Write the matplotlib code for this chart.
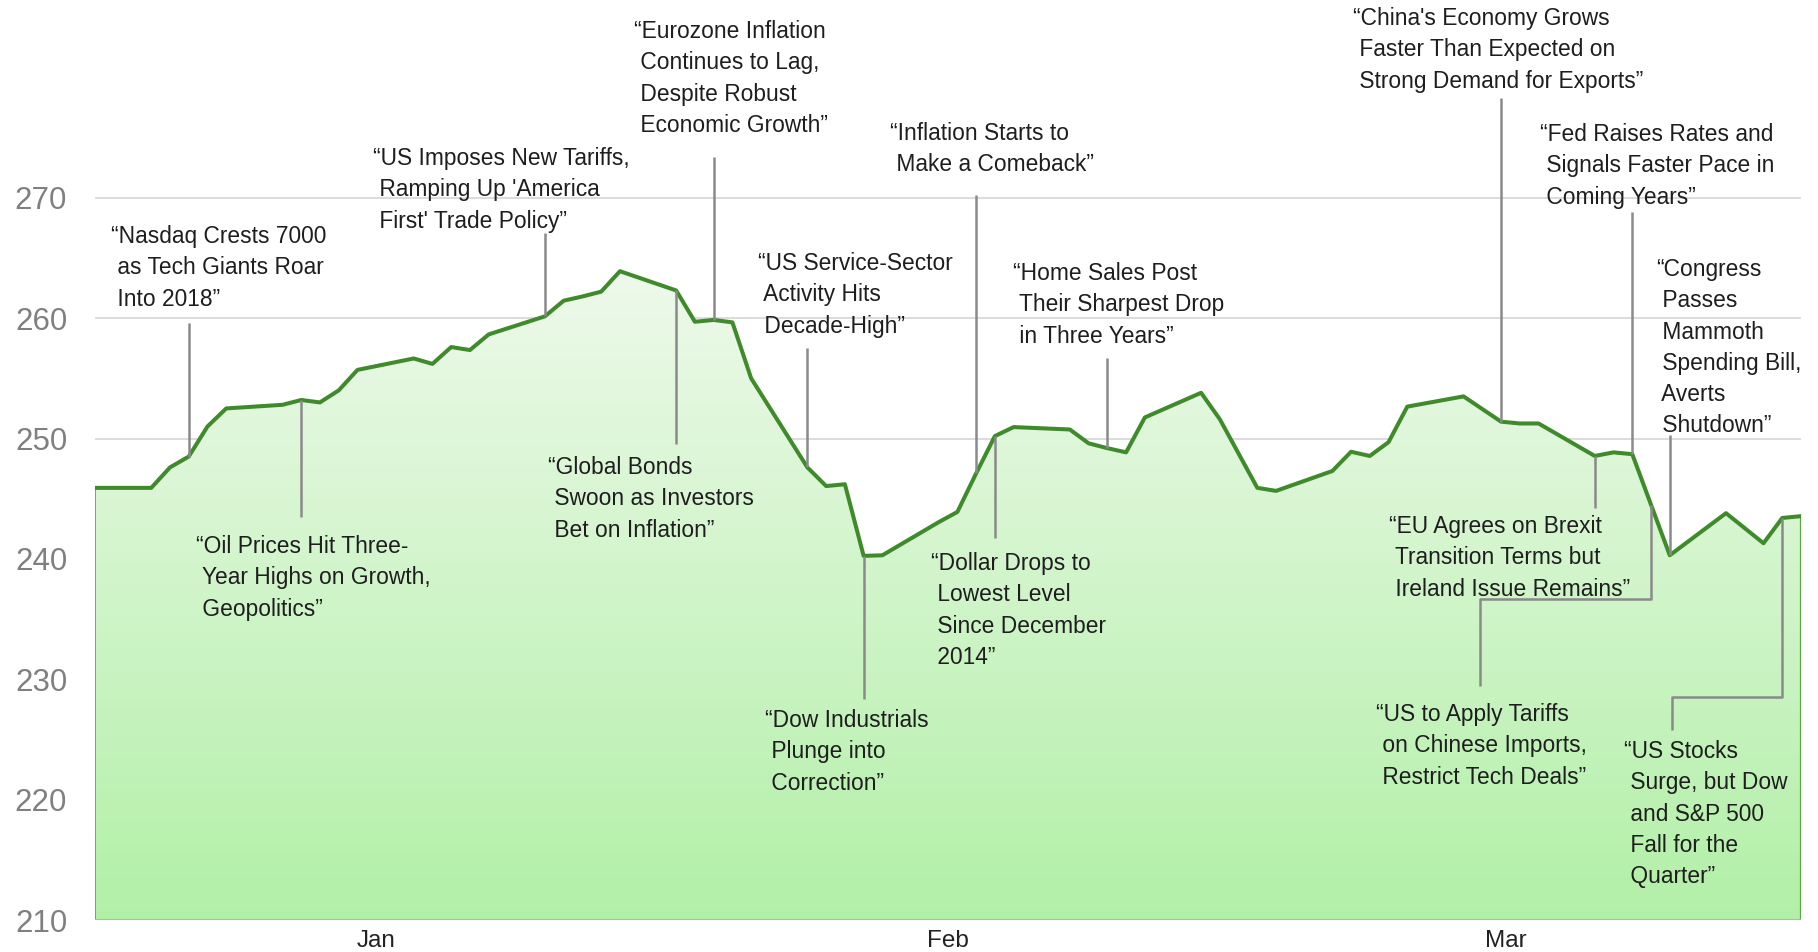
import matplotlib
matplotlib.use("Agg")
import matplotlib.pyplot as plt
import matplotlib.dates as mdates
import numpy as np
import pandas as pd
from matplotlib.colors import LinearSegmentedColormap

# ---------------- data ----------------
dates = [
    "2017-12-29", "2018-01-01", "2018-01-02", "2018-01-03", "2018-01-04", "2018-01-05",
    "2018-01-08", "2018-01-09", "2018-01-10", "2018-01-11", "2018-01-12",
    "2018-01-15", "2018-01-16", "2018-01-17", "2018-01-18", "2018-01-19",
    "2018-01-22", "2018-01-23", "2018-01-24", "2018-01-25", "2018-01-26",
    "2018-01-29", "2018-01-30", "2018-01-31", "2018-02-01", "2018-02-02",
    "2018-02-05", "2018-02-06", "2018-02-07", "2018-02-08", "2018-02-09",
    "2018-02-12", "2018-02-13", "2018-02-14", "2018-02-15", "2018-02-16",
    "2018-02-19", "2018-02-20", "2018-02-21", "2018-02-22", "2018-02-23",
    "2018-02-26", "2018-02-27", "2018-02-28", "2018-03-01", "2018-03-02",
    "2018-03-05", "2018-03-06", "2018-03-07", "2018-03-08", "2018-03-09",
    "2018-03-12", "2018-03-13", "2018-03-14", "2018-03-15", "2018-03-16",
    "2018-03-19", "2018-03-20", "2018-03-21", "2018-03-22", "2018-03-23",
    "2018-03-26", "2018-03-27", "2018-03-28", "2018-03-29", "2018-03-30",
]
values = [
    245.9, 245.9, 247.6, 248.5, 251.0, 252.5,
    252.8, 253.2, 253.0, 254.0, 255.7,
    256.65, 256.2, 257.6, 257.35, 258.65,
    260.15, 261.45, 261.8, 262.2, 263.9,
    262.3, 259.7, 259.85, 259.65, 255.0,
    247.6, 246.05, 246.2, 240.25, 240.3,
    243.05, 243.9, 247.1, 250.2, 250.95,
    250.75, 249.6, 249.2, 248.85, 251.75,
    253.8, 251.6, 248.75, 245.9, 245.65,
    247.3, 248.9, 248.55, 249.7, 252.65,
    253.5, 252.45, 251.4, 251.25, 251.25,
    248.55, 248.85, 248.7, 244.5, 240.3,
    243.8, 242.55, 241.3, 243.4, 243.55,
]
month_labels = ["Jan", "Feb", "Mar"]
month_label_dates = ["2018-01-13 00:00", "2018-02-12 12:00", "2018-03-14 06:00"]
y_ticks = [210, 220, 230, 240, 250, 260, 270]

# headlines: anchor date, text lines
event_dates = ["2018-01-03", "2018-01-09", "2018-01-22", "2018-01-29", "2018-01-31",
               "2018-02-05", "2018-02-08", "2018-02-14", "2018-02-15", "2018-02-21",
               "2018-03-14", "2018-03-21", "2018-03-23", "2018-03-19", "2018-03-22",
               "2018-03-29"]
event_texts = [
    ["“Nasdaq Crests 7000", " as Tech Giants Roar", " Into 2018”"],
    ["“Oil Prices Hit Three-", " Year Highs on Growth,", " Geopolitics”"],
    ["“US Imposes New Tariffs,", " Ramping Up 'America", " First' Trade Policy”"],
    ["“Global Bonds", " Swoon as Investors", " Bet on Inflation”"],
    ["“Eurozone Inflation", " Continues to Lag,", " Despite Robust", " Economic Growth”"],
    ["“US Service-Sector", " Activity Hits", " Decade-High”"],
    ["“Dow Industrials", " Plunge into", " Correction”"],
    ["“Inflation Starts to", " Make a Comeback”"],
    ["“Dollar Drops to", " Lowest Level", " Since December", " 2014”"],
    ["“Home Sales Post", " Their Sharpest Drop", " in Three Years”"],
    ["“China's Economy Grows", " Faster Than Expected on", " Strong Demand for Exports”"],
    ["“Fed Raises Rates and", " Signals Faster Pace in", " Coming Years”"],
    ["“Congress", " Passes", " Mammoth", " Spending Bill,", " Averts", " Shutdown”"],
    ["“EU Agrees on Brexit", " Transition Terms but", " Ireland Issue Remains”"],
    ["“US to Apply Tariffs", " on Chinese Imports,", " Restrict Tech Deals”"],
    ["“US Stocks", " Surge, but Dow", " and S&P 500", " Fall for the", " Quarter”"],
]

# ---------------- layout (figure pixels, y from top) ----------------
W, H = 1818, 952
text_pos = [(111, 235), (196, 545), (373, 157), (548, 466), (634, 30),
            (758, 262), (765, 719), (890, 132), (931, 562), (1013, 272),
            (1353, 17), (1540, 133), (1656, 268), (1389, 525), (1376, 713),
            (1624, 750)]
# leader path after the data point: list of (x or None=same x, y) in px
leader_paths = [
    [(None, 323)], [(None, 517)], [(None, 233)], [(None, 444)], [(None, 157)],
    [(None, 348)], [(None, 699)], [(None, 195)], [(None, 538)], [(None, 358)],
    [(None, 98)], [(None, 212)], [(None, 435)], [(None, 508)],
    [(None, 599), (1480, 599), (1480, 686)],
    [(None, 697), (1672, 697), (1672, 730)],
]
LINE_STEP = 31.3

plt.rcParams["font.family"] = ["Liberation Sans", "DejaVu Sans"]

fig = plt.figure(figsize=(W / 100, H / 100), dpi=100)
ax = fig.add_axes([95 / W, 1 - 920 / H, (1801 - 95) / W, (920 - 77.4) / H])

x = mdates.date2num(pd.to_datetime(dates))
y = np.array(values)

ax.set_xlim(x[0], x[-1])
ax.set_ylim(210, 280)

# gradient fill under the curve
poly = ax.fill_between(x, y, 210, facecolor="none", edgecolor="none", zorder=1)
cmap = LinearSegmentedColormap.from_list("g", ["#b2f0a7", "#eef9eb"])
grad = np.linspace(0, 1, 256).reshape(-1, 1)
im = ax.imshow(grad, extent=[x[0], x[-1], 210, y.max()], origin="lower",
               aspect="auto", cmap=cmap, zorder=1.5)
im.set_clip_path(poly.get_paths()[0], transform=ax.transData)
ax.set_xlim(x[0], x[-1])
ax.set_ylim(210, 280)

# edges of the area
ax.plot([x[0], x[0]], [210, y[0]], color="#5aa640", lw=1.2, zorder=2)
ax.plot([x[-1], x[-1]], [210, y[-1]], color="#5aa640", lw=1.6, zorder=2)

ax.plot(x, y, color="#3f8b2b", lw=2.9, zorder=4, solid_joinstyle="round")

# grid and axes
for v in y_ticks[1:]:
    ax.axhline(v, color="#dcdcdc", lw=1.4, zorder=0.5)
ax.axhline(210, color="#b4b4b4", lw=2.2, zorder=3)
for s in ax.spines.values():
    s.set_visible(False)
ax.set_yticks(y_ticks)
ax.set_yticklabels([str(t) for t in y_ticks], fontsize=22.5, color="#808080")
ax.tick_params(axis="y", length=0, pad=20)
ax.set_xticks(mdates.date2num(pd.to_datetime(month_label_dates)))
ax.set_xticklabels(month_labels, fontsize=17.5, color="#222222")
ax.tick_params(axis="x", length=0, pad=7)

# annotations
def px_to_fig(px, py):
    return px / W, 1 - py / H

to_fig = fig.transFigure.inverted()
for d, lines, (tx, ty), path in zip(event_dates, event_texts, text_pos, leader_paths):
    dn = mdates.date2num(pd.Timestamp(d))
    val = y[list(x).index(dn)]
    disp = ax.transData.transform((dn, val))
    fx0, fy0 = to_fig.transform(disp)
    xs, ys = [fx0], [fy0]
    for px, py in path:
        fx = fx0 if px is None else px / W
        xs.append(fx)
        ys.append(1 - py / H)
    fig.add_artist(plt.Line2D(xs, ys, color="#8a8a8a", lw=1.8, zorder=5,
                              solid_capstyle="butt"))
    for i, line in enumerate(lines):
        fx, fy = px_to_fig(tx, ty + i * LINE_STEP + 8)
        fig.text(fx, fy, line, fontsize=16.4, color="#1e1e1e", ha="left",
                 va="baseline", zorder=6)

fig.savefig("out.png", dpi=100)
